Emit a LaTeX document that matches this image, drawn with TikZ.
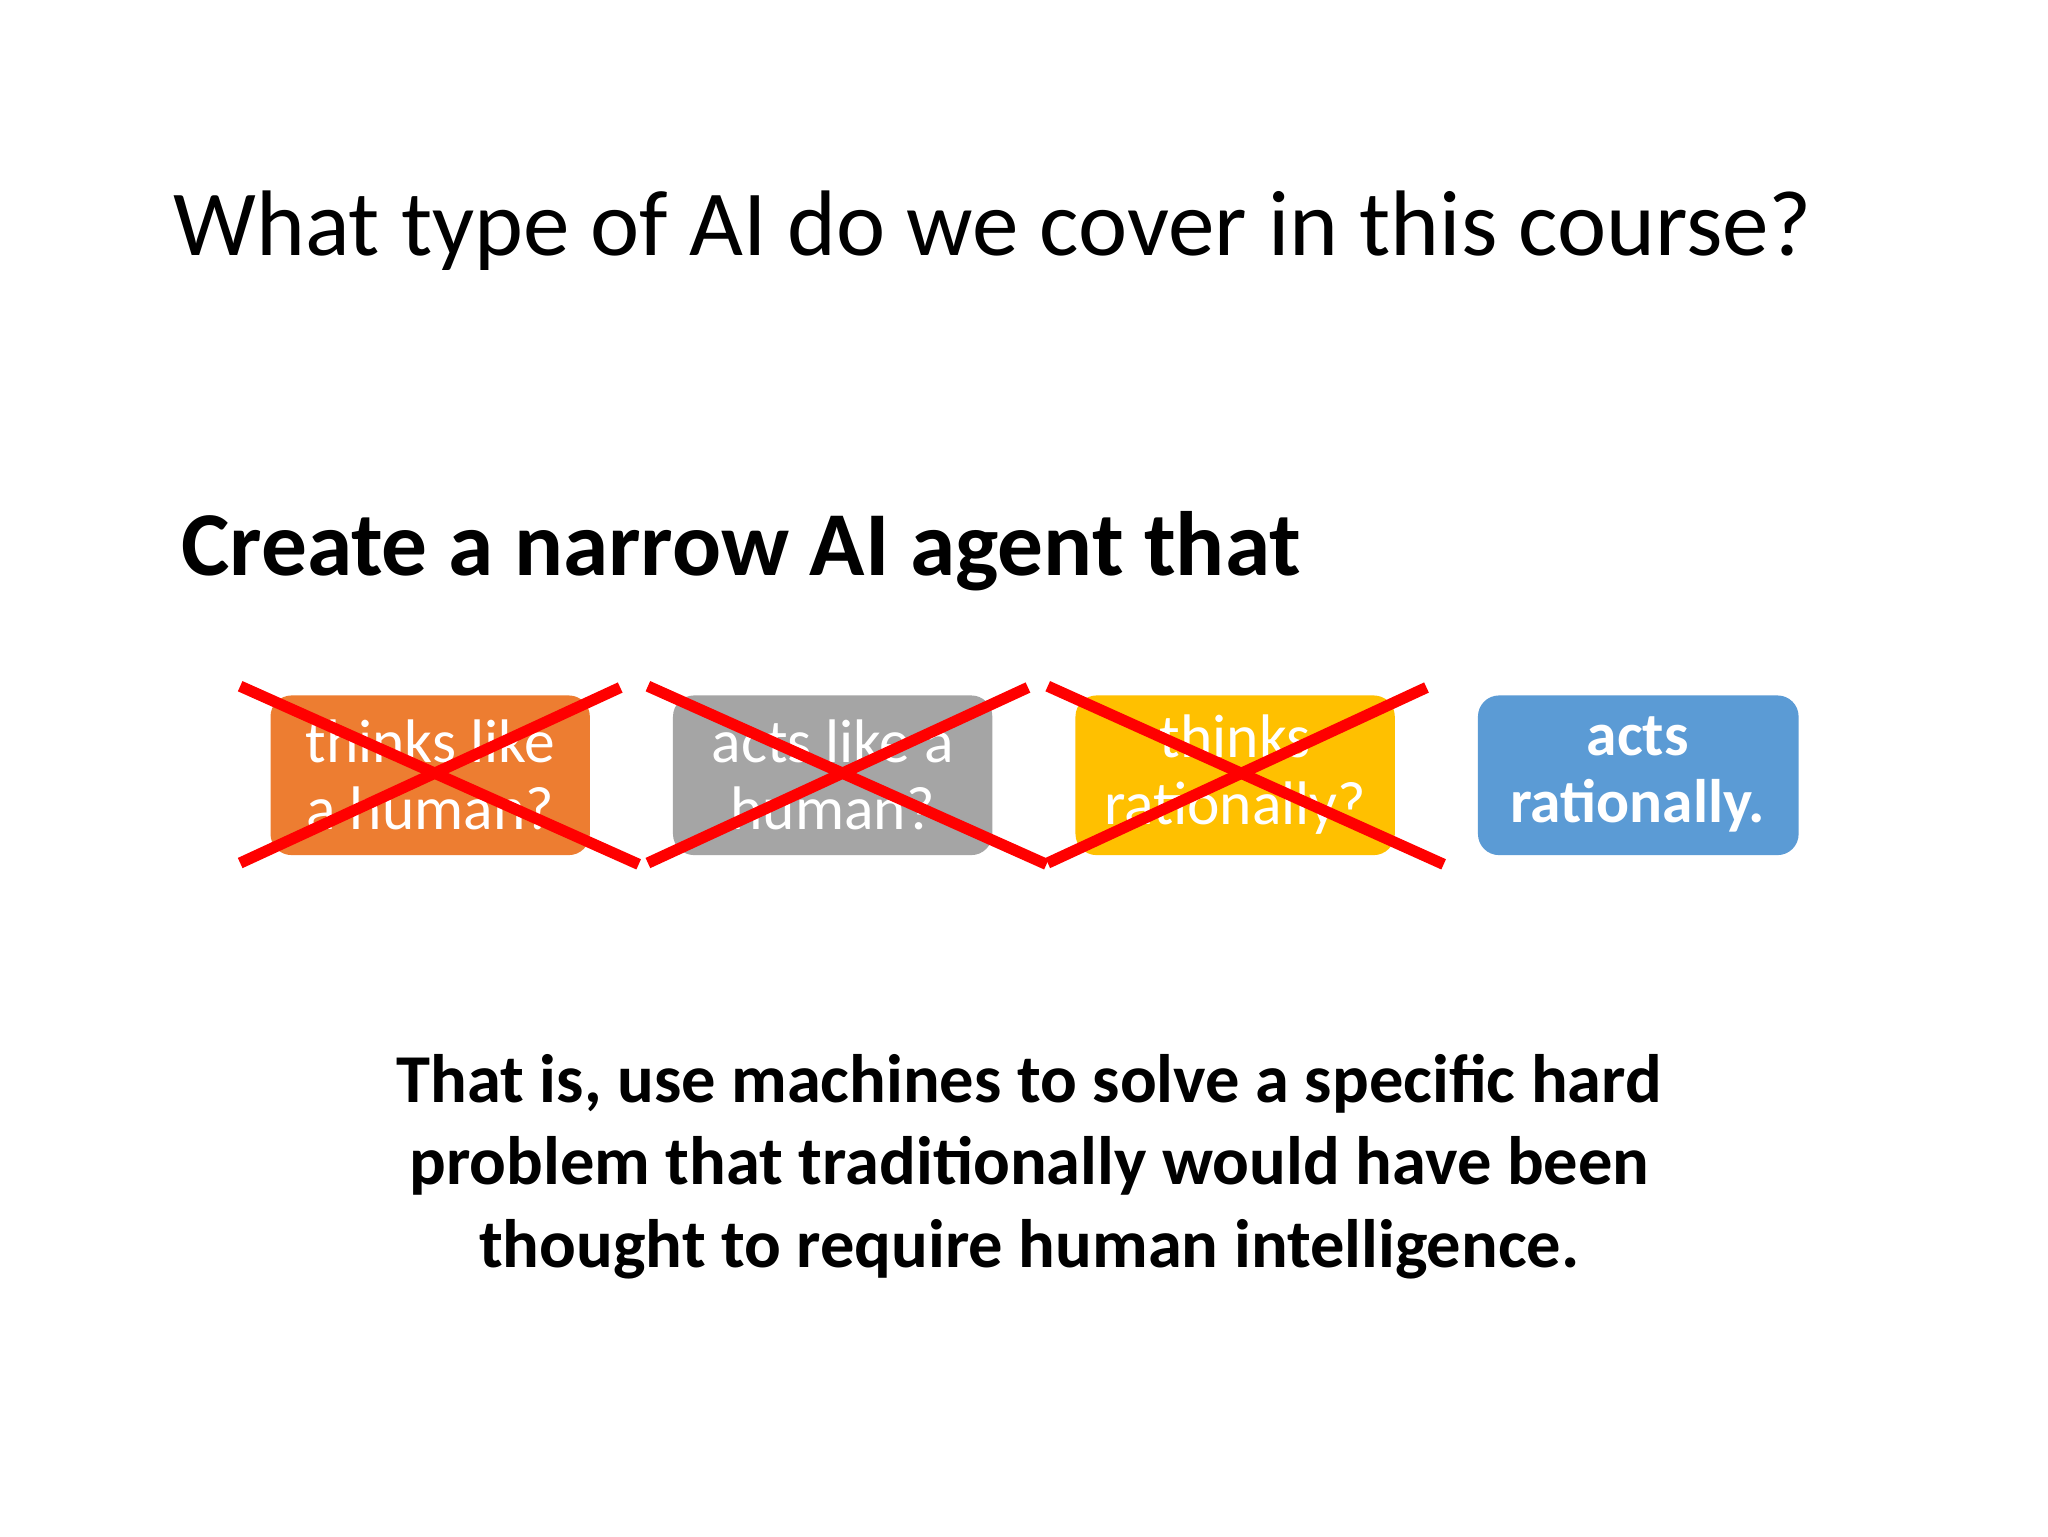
\documentclass[tikz,border=0pt]{standalone}
\usepackage{fontspec}
\setmainfont{Carlito}
\begin{document}
\begin{tikzpicture}[x=0.013196cm,y=-0.013196cm,
  box/.style={text=white,font=\fontsize{17.5}{19}\selectfont,align=center,inner sep=0pt},
  cross/.style={red,line width=3.2pt}]
\useasboundingbox (0,0) rectangle (1552,1164);
\fill[white] (0,0) rectangle (1552,1164);
\node[anchor=west,font=\fontsize{26.5}{30}\selectfont] (title) at (122,175) {What type of AI do we cover in this course?};
\node[anchor=west,font=\bfseries\fontsize{26}{31}\selectfont] (create) at (128,418) {Create a narrow AI agent that};
\fill[rounded corners=6pt,fill={rgb,255:red,237;green,125;blue,49}] (205,527) rectangle (447,648);
\fill[rounded corners=6pt,fill={rgb,255:red,165;green,165;blue,165}] (510,527) rectangle (752,648);
\fill[rounded corners=6pt,fill={rgb,255:red,255;green,192;blue,0}] (815,527) rectangle (1057,648);
\fill[rounded corners=6pt,fill={rgb,255:red,91;green,155;blue,213}] (1120,527) rectangle (1363,648);
\node[box] (b1) at (326,587) {thinks like\\a human?};
\node[box] (b2) at (631,587) {acts like a\\human?};
\node[box] (b3) at (936,587) {thinks\\rationally?};
\node[box,font=\bfseries\fontsize{17.5}{19}\selectfont] (b4) at (1241,587) {acts\\rationally.};
\draw[cross] (182,520) -- (484,655); \draw[cross] (182,654) -- (470,521);
\draw[cross] (491,520) -- (793,655); \draw[cross] (491,654) -- (779,521);
\draw[cross] (794,520) -- (1094,655); \draw[cross] (794,654) -- (1081,521);
\node[align=center,font=\bfseries\fontsize{19.5}{23.5}\selectfont] (bottom) at (780,884) {That is, use machines to solve a specific hard\\problem that traditionally would have been\\thought to require human intelligence.};
\end{tikzpicture}
\end{document}
